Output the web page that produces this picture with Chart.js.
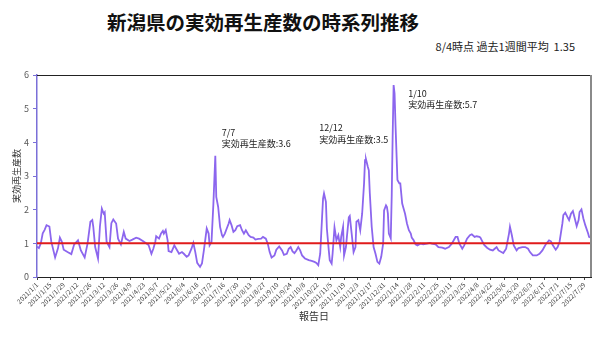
<!DOCTYPE html>
<html lang="ja">
<head>
<meta charset="utf-8">
<script src="https://cdn.jsdelivr.net/npm/chart.js@4.4.1/dist/chart.umd.min.js"></script>
<style>
  body { margin: 0; background: #fff; }
  #wrap { position: relative; width: 600px; height: 337px; font-family: "Noto Sans CJK JP", "Noto Sans", sans-serif; }
  #title { position: absolute; left: 107px; top: 7px; font-size: 19.5px; font-weight: bold; color: #111; white-space: nowrap; }
  #note { position: absolute; right: 25px; top: 38px; font-size: 11px; color: #222; white-space: pre; }
  canvas { position: absolute; left: 0; top: 0; }
</style>
</head>
<body>
<div id="wrap">
  <div id="title">新潟県の実効再生産数の時系列推移</div>
  <div id="note">8/4時点 過去1週間平均  1.35</div>
  <canvas id="rtChart" width="600" height="337"></canvas>
</div>
<script>
// 2021/1/1 からの経過日数
const startDate = new Date(2021, 0, 1);

const reportDays = [
  0, 2, 4, 6, 8, 10, 13, 15, 19, 22, 24, 26, 28, 32, 36, 39, 43, 46, 50, 53, 56, 58, 59,
  61, 64, 66, 68, 70, 71, 73, 76, 78, 80, 83, 85, 88, 91, 93, 97, 100, 104, 107, 111, 114, 117,
  120, 122, 124, 125, 128, 130, 132, 133, 135, 137, 138, 141, 144, 146, 149, 152, 154, 157, 159, 162, 164, 166, 168, 171, 173, 175, 178, 180, 181, 183,
  185, 187, 188, 190, 192, 194, 195, 197, 199, 201, 202, 204, 206, 208, 210, 213, 215, 217, 219, 222, 224, 227, 229, 232, 235, 237, 240, 242,
  244, 246, 249, 251, 254, 257, 259, 262, 264, 266, 268, 270, 272, 274, 276, 278, 281, 285, 288, 291, 293, 295, 297,
  299, 300, 301, 303, 304, 306, 307, 309, 310, 312, 313, 314, 316, 318, 319, 321, 322, 324, 325, 327, 328, 330, 332, 334, 335, 337, 339, 341,
  343, 344, 345, 347, 348, 349, 351, 353, 355, 357, 359, 361, 363, 364, 366, 367, 368, 369, 371, 372, 373,
  374, 375, 376, 378, 380, 381, 383, 384, 386, 388, 390, 392, 393, 395, 397, 399, 402, 405, 409, 412, 414, 418,
  421, 425, 428, 432, 435, 439, 441, 443, 446, 448, 451, 454, 456, 459, 461, 464, 465, 467, 469, 472, 475, 478,
  480, 482, 484, 487, 489, 492, 495, 496, 498, 500, 503, 505, 509, 512, 515, 517, 520, 524, 527, 530, 532, 534, 537,
  539, 541, 544, 546, 548, 551, 552, 554, 557, 558, 560, 562, 564, 566, 568, 569, 571, 573, 575, 578, 579, 580
];

const rtValues = [
  0.90, 0.86, 1.00, 1.30, 1.40, 1.54, 1.50, 1.05, 0.58, 0.85, 1.17, 1.05, 0.81, 0.74, 0.68, 0.97, 1.09, 0.79, 0.58, 0.99, 1.64, 1.69, 1.50,
  0.89, 0.55, 1.50, 2.03, 1.88, 1.92, 1.05, 0.89, 1.60, 1.71, 1.59, 1.14, 0.97, 1.34, 1.14, 1.07, 1.11, 1.17, 1.14, 1.07, 1.01, 0.95,
  0.69, 0.84, 1.04, 1.21, 1.14, 1.29, 1.37, 1.29, 1.39, 1.09, 0.77, 0.74, 0.94, 0.84, 0.69, 0.74, 0.69, 0.60, 0.64, 0.84, 1.01, 0.74, 0.42, 0.30, 0.40, 0.79, 1.44, 1.29, 0.94, 1.04,
  2.18, 3.60, 2.38, 2.08, 1.49, 1.24, 1.19, 1.29, 1.44, 1.59, 1.69, 1.54, 1.34, 1.39, 1.51, 1.54, 1.39, 1.29, 1.39, 1.24, 1.19, 1.17, 1.11, 1.13, 1.14, 1.19, 1.14, 0.99,
  0.74, 0.58, 0.64, 0.81, 0.91, 0.79, 0.66, 0.69, 0.84, 0.89, 0.76, 0.71, 0.79, 0.89, 0.79, 0.64, 0.55, 0.50, 0.48, 0.45, 0.42, 0.35, 0.69,
  1.79, 2.33, 2.48, 2.23, 1.44, 0.79, 0.50, 0.40, 0.69, 1.47, 1.29, 1.09, 1.24, 0.89, 1.19, 1.49, 0.64, 0.89, 1.19, 1.77, 1.81, 1.29, 0.74, 0.89, 1.64, 1.69, 1.39, 1.88,
  2.78, 3.47, 3.50, 3.27, 3.17, 2.50, 1.50, 0.89, 0.69, 0.45, 0.40, 0.60, 0.99, 1.98, 2.13, 2.08, 1.88, 1.29, 1.15, 2.40, 4.20,
  5.70, 5.45, 4.50, 2.88, 2.78, 2.78, 2.18, 2.08, 1.88, 1.59, 1.39, 1.29, 1.17, 1.09, 0.97, 0.94, 0.99, 0.97, 0.99, 1.01, 0.99, 0.97,
  0.89, 0.87, 0.84, 0.89, 0.99, 1.19, 1.19, 0.99, 0.84, 0.94, 1.14, 1.24, 1.27, 1.19, 1.21, 1.19, 1.17, 1.06, 0.95, 0.87, 0.81, 0.79,
  0.84, 0.89, 0.79, 0.74, 0.71, 0.84, 1.29, 1.49, 1.24, 0.94, 0.79, 0.86, 0.89, 0.89, 0.84, 0.74, 0.64, 0.64, 0.69, 0.79, 0.89, 0.99, 1.09,
  1.06, 0.94, 0.81, 0.89, 1.04, 1.59, 1.84, 1.91, 1.74, 1.69, 1.88, 1.96, 1.74, 1.51, 1.69, 1.93, 2.01, 1.74, 1.54, 1.29, 1.19, 1.17
];

// 横軸の目盛り（2週間ごと）
const tickLabels = [
  "2021/1/1", "2021/1/15", "2021/1/29", "2021/2/12", "2021/2/26", "2021/3/12", "2021/3/26",
  "2021/4/9", "2021/4/23", "2021/5/7", "2021/5/21", "2021/6/4", "2021/6/18", "2021/7/2",
  "2021/7/16", "2021/7/30", "2021/8/13", "2021/8/27", "2021/9/10", "2021/9/24", "2021/10/8",
  "2021/10/22", "2021/11/5", "2021/11/19", "2021/12/3", "2021/12/17", "2021/12/31", "2022/1/14",
  "2022/1/28", "2022/2/11", "2022/2/25", "2022/3/11", "2022/3/25", "2022/4/8", "2022/4/22",
  "2022/5/6", "2022/5/20", "2022/6/3", "2022/6/17", "2022/7/1", "2022/7/15", "2022/7/29"
];
const yTicks = [0, 1, 2, 3, 4, 5, 6];

// 基準線 (Rt = 1)
const thresholdDays = [0, 581];
const thresholdValues = [1, 1];

// ピークの注記
const peakNotes = [
  { day: 193.7, value: 4.43, lines: ["7/7", "実効再生産数:3.6"] },
  { day: 296, value: 4.57, lines: ["12/12", "実効再生産数:3.5"] },
  { day: 389.4, value: 5.59, lines: ["1/10", "実効再生産数:5.7"] }
];

function dayOf(label) {
  const [y, m, d] = label.split("/").map(Number);
  return Math.round((new Date(y, m - 1, d) - startDate) / 86400000);
}
const tickDays = tickLabels.map(dayOf);

Chart.defaults.font.family = '"Noto Sans CJK JP", "Noto Sans", sans-serif';

// 枠線（上・右）
const frame = {
  id: "frame",
  afterDatasetsDraw(chart) {
    const { ctx, chartArea: a } = chart;
    ctx.save();
    ctx.strokeStyle = "#222";
    ctx.lineWidth = 1;
    ctx.beginPath();
    ctx.moveTo(a.left, a.top + 0.5);
    ctx.lineTo(a.right, a.top + 0.5);
    ctx.stroke();
    ctx.strokeStyle = "#8a8a8a";
    ctx.lineWidth = 2;
    ctx.beginPath();
    ctx.moveTo(a.right, a.top);
    ctx.lineTo(a.right, a.bottom);
    ctx.stroke();
    ctx.restore();
  }
};

const notes = {
  id: "notes",
  afterDatasetsDraw(chart) {
    const { ctx, scales } = chart;
    ctx.save();
    ctx.fillStyle = "#222";
    ctx.font = '9px "Noto Sans CJK JP", sans-serif';
    ctx.textBaseline = "top";
    peakNotes.forEach(n => {
      const x = scales.x.getPixelForValue(n.day);
      const y = scales.y.getPixelForValue(n.value);
      n.lines.forEach((t, i) => ctx.fillText(t, x, y + i * 11.5));
    });
    ctx.restore();
  }
};

new Chart(document.getElementById("rtChart"), {
  type: "line",
  data: {
    datasets: [
      {
        data: thresholdDays.map((d, i) => ({ x: d, y: thresholdValues[i] })),
        borderColor: "#e01b1b",
        borderWidth: 2,
        pointRadius: 0,
        order: 0
      },
      {
        data: reportDays.map((d, i) => ({ x: d, y: rtValues[i] })),
        borderColor: "#8c66ee",
        borderWidth: 1.8,
        pointRadius: 0,
        tension: 0,
        order: 1
      }
    ]
  },
  options: {
    responsive: false,
    animation: false,
    layout: { padding: { top: 75, right: 9, left: 0, bottom: 0 } },
    plugins: { legend: { display: false }, tooltip: { enabled: false } },
    scales: {
      x: {
        type: "linear",
        min: 0,
        max: 581,
        afterBuildTicks: s => { s.ticks = tickDays.map(v => ({ value: v })); },
        afterFit: s => { s.height = 60; },
        ticks: {
          autoSkip: false,
          minRotation: 45,
          maxRotation: 45,
          padding: 1,
          color: "#404040",
          font: { size: 6.5 },
          callback: (v, i) => tickLabels[i]
        },
        grid: { drawOnChartArea: false, tickLength: 3, color: "#444" },
        border: { color: "#222", width: 1 },
        title: { display: true, text: "報告日", color: "#333", font: { size: 10 }, padding: { top: 0, bottom: 15 } }
      },
      y: {
        min: 0,
        max: 6,
        afterBuildTicks: s => { s.ticks = yTicks.map(v => ({ value: v })); },
        afterFit: s => { s.width = 37; },
        ticks: { padding: 4, color: "#595959", font: { size: 9 } },
        grid: { drawOnChartArea: false, tickLength: 4, color: "#7a6fd8" },
        border: { color: "#7a6fd8", width: 1.5 },
        title: { display: true, text: "実効再生産数", color: "#333", font: { size: 9 }, padding: { top: 11, bottom: 0 } }
      }
    }
  },
  plugins: [frame, notes]
});
</script>
</body>
</html>
